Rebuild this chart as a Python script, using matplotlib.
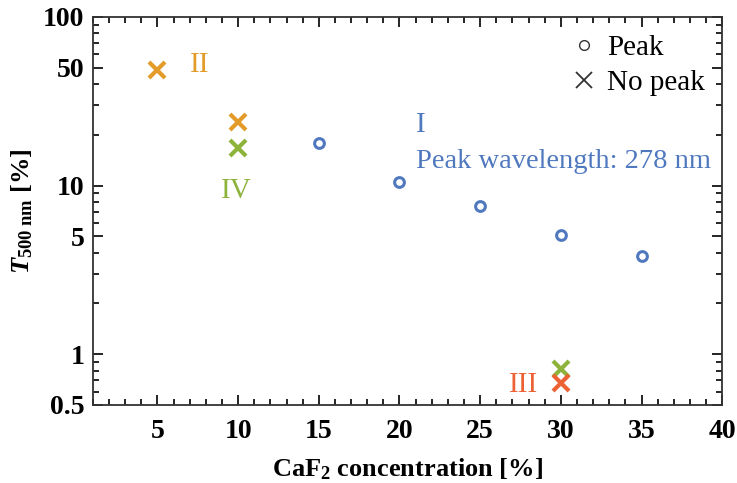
import numpy as np
import matplotlib.pyplot as plt
from matplotlib.lines import Line2D
from matplotlib.ticker import FixedLocator, MultipleLocator, NullFormatter

plt.rcParams['font.family'] = 'Liberation Serif'
plt.rcParams['mathtext.fontset'] = 'custom'
plt.rcParams['mathtext.rm'] = 'Liberation Serif:bold'
plt.rcParams['mathtext.bf'] = 'Liberation Serif:bold'
plt.rcParams['mathtext.it'] = 'Liberation Serif:bold:italic'

# series I: peak found
peak_x = [15, 20, 25, 30, 35]
peak_y = [17.9, 10.5, 7.6, 5.1, 3.8]

# no-peak samples
II_x, II_y = [5, 10], [48.5, 23.8]
IV_x, IV_y = [10, 30], [16.7, 0.82]
III_x, III_y = [30], [0.675]

c_blue = '#4f78bf'
c_orange = '#e39c2a'
c_green = '#8db33a'
c_red = '#ec6235'

fig = plt.figure(figsize=(7.37, 4.83), dpi=100)
ax = fig.add_axes([0.126, 0.1615, 0.854, 0.8035])

ax.plot(peak_x, peak_y, 'o', ms=7, mfc='none', mec=c_blue, mew=2.2, ls='none')
ax.plot(II_x, II_y, 'x', ms=11, mec=c_orange, mew=3, ls='none')
ax.plot(IV_x, IV_y, 'x', ms=11, mec=c_green, mew=3, ls='none')
ax.plot(III_x, III_y, 'x', ms=11, mec=c_red, mew=3, ls='none')

ax.set_yscale('log')
ax.set_xlim(1, 40)
ax.set_ylim(0.5, 100)
ax.xaxis.set_major_locator(FixedLocator([5, 10, 15, 20, 25, 30, 35, 40]))
ax.xaxis.set_minor_locator(MultipleLocator(1))
ax.yaxis.set_major_locator(FixedLocator([0.5, 1, 5, 10, 50, 100]))
ax.set_yticklabels(['0.5', '1', '5', '10', '50', '100'])
minor_y = [v * d for d in [0.1, 1, 10] for v in range(2, 10)]
ax.yaxis.set_minor_locator(FixedLocator([v for v in minor_y if 0.5 < v < 100 and v not in (5, 50)]))
ax.yaxis.set_minor_formatter(NullFormatter())

ax.tick_params(which='both', direction='in', top=True, right=True, width=1.2)
ax.tick_params(which='major', length=7, labelsize=20, pad=6)
ax.tick_params(axis='x', which='major', pad=10)
ax.tick_params(which='minor', length=4)
for lab in ax.get_xticklabels() + ax.get_yticklabels():
    lab.set_fontweight('bold')
for s in ax.spines.values():
    s.set_linewidth(1.3)
    s.set_color('#333333')

ax.set_xlabel(r'CaF$_\mathbf{2}$ concentration [%]', fontsize=19, fontweight='bold', labelpad=9)
ax.set_ylabel(r'$T_\mathbf{500\ nm}$ [%]', fontsize=19, fontweight='bold', labelpad=6)

ax.text(7.0, 52, 'II', color=c_orange, fontsize=21, ha='left', va='center')
ax.text(21.0, 23.0, 'I', color=c_blue, fontsize=21, ha='left', va='center')
ax.text(21.0, 13.8, 'Peak wavelength: 278 nm', color=c_blue, fontsize=20.5, ha='left', va='center')
ax.text(9.9, 9.3, 'IV', color=c_green, fontsize=21, ha='center', va='center')
ax.text(28.6, 0.66, 'III', color=c_red, fontsize=21, ha='right', va='center')

handles = [Line2D([], [], marker='o', ls='none', mfc='none', mec='#333333', ms=7, mew=1),
           Line2D([], [], marker='x', ls='none', mec='#333333', ms=11, mew=1.3)]
ax.legend(handles, ['Peak', 'No peak'], loc='upper right', frameon=False, fontsize=21,
          handletextpad=0.2, borderaxespad=0.2, labelspacing=0.3, handlelength=1.2)

fig.savefig('out.png', dpi=100)
